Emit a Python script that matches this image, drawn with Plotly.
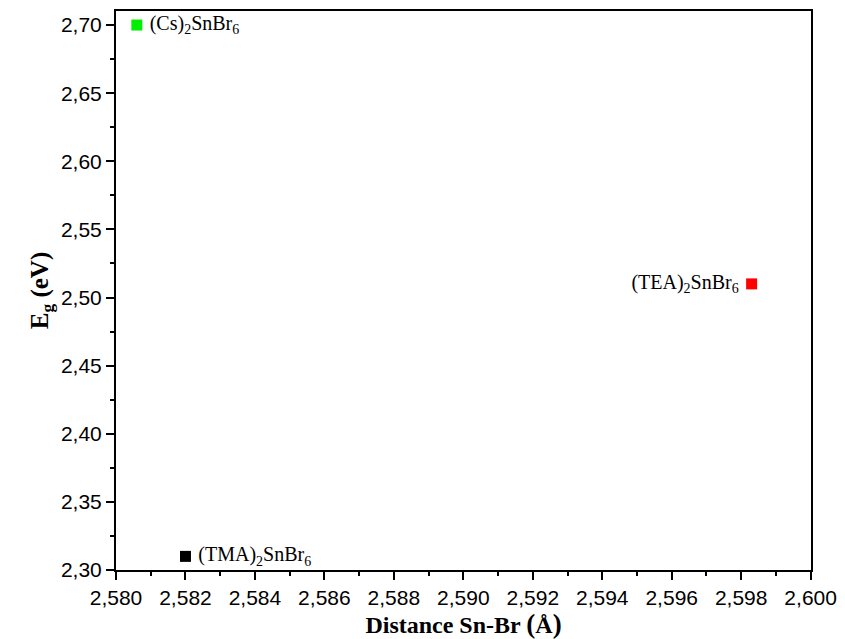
import plotly.graph_objects as go

names = ["(Cs)<sub>2</sub>SnBr<sub>6</sub>", "(TMA)<sub>2</sub>SnBr<sub>6</sub>", "(TEA)<sub>2</sub>SnBr<sub>6</sub>"]
distance = [2.5806, 2.5820, 2.5983]
eg = [2.70, 2.31, 2.51]
colors = ["#00ee00", "#000000", "#ff0000"]
positions = ["middle right", "middle right", "middle left"]

fig = go.Figure()
for n, x, y, c, p in zip(names, distance, eg, colors, positions):
    fig.add_trace(go.Scatter(
        x=[x], y=[y], mode="markers+text",
        marker=dict(symbol="square", size=11, color=c, line=dict(width=0)),
        text=[" " + n if p == "middle right" else n + " "],
        textposition=p,
        textfont=dict(family="Liberation Serif", size=20, color="black"),
        showlegend=False, cliponaxis=False,
    ))

axis_common = dict(
    showline=True, linecolor="black", linewidth=2, mirror=True,
    ticks="outside", ticklen=8, tickwidth=2, tickcolor="black",
    showgrid=False, zeroline=False,
    tickfont=dict(family="Liberation Sans", size=21, color="black"),
    ticklabeloverflow="allow",
)

fig.update_xaxes(
    range=[2.580, 2.60001], dtick=0.002, tick0=2.580, tickformat=".3f",
    minor=dict(dtick=0.001, ticks="outside", ticklen=4, tickwidth=2, tickcolor="black"),
    title=dict(text="<b>Distance Sn-Br <span style='font-size:27px'>(</span>Å<span style='font-size:27px'>)</span></b>",
               font=dict(family="Liberation Serif", size=24, color="black"), standoff=6),
    **axis_common,
)
fig.update_yaxes(
    range=[2.30, 2.7103], dtick=0.05, tick0=2.30, tickformat=".2f",
    minor=dict(dtick=0.025, ticks="outside", ticklen=4, tickwidth=2, tickcolor="black"),
    title=dict(text="<b>E<sub>g</sub> (eV)</b>", font=dict(family="Liberation Serif", size=25, color="black"), standoff=5),
    **axis_common,
)

fig.update_layout(
    width=845, height=639,
    margin=dict(l=116, r=34, t=11, b=69, autoexpand=False),
    plot_bgcolor="white", paper_bgcolor="white",
    separators=",.",
)

fig.write_html("out.html", config={"displayModeBar": False},
               post_script="document.body.style.margin='0px';")
